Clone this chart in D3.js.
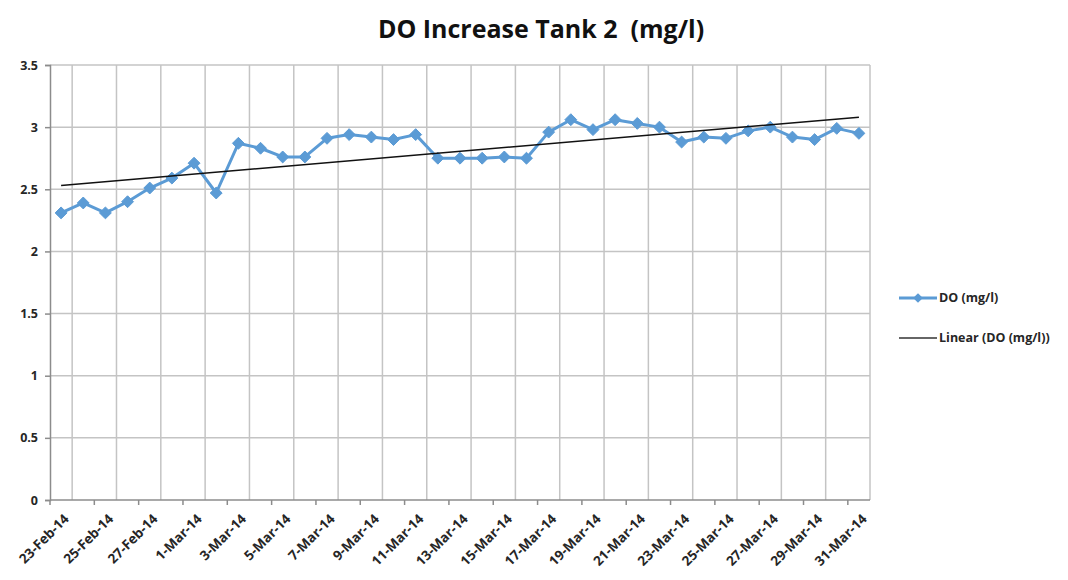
<!DOCTYPE html>
<html lang="en">
<head>
    <meta charset="UTF-8">
    <title>do-increase-tank-2</title>
    <style>
        body {
            margin: 0;
            background: #fff;
            font-family: "Open Sans", "Noto Sans", sans-serif;
        }
    </style>
    <script src="https://d3js.org/d3.v7.min.js"></script>
</head>
<body>

<script>

    // daily readings, 23-Feb-14 .. 31-Mar-14
    let dates = ["23-Feb-14", "24-Feb-14", "25-Feb-14", "26-Feb-14", "27-Feb-14", "28-Feb-14",
        "1-Mar-14", "2-Mar-14", "3-Mar-14", "4-Mar-14", "5-Mar-14", "6-Mar-14", "7-Mar-14",
        "8-Mar-14", "9-Mar-14", "10-Mar-14", "11-Mar-14", "12-Mar-14", "13-Mar-14", "14-Mar-14",
        "15-Mar-14", "16-Mar-14", "17-Mar-14", "18-Mar-14", "19-Mar-14", "20-Mar-14", "21-Mar-14",
        "22-Mar-14", "23-Mar-14", "24-Mar-14", "25-Mar-14", "26-Mar-14", "27-Mar-14", "28-Mar-14",
        "29-Mar-14", "30-Mar-14", "31-Mar-14"]
    let doValues = [2.31, 2.39, 2.31, 2.40, 2.51, 2.59, 2.71, 2.47, 2.87, 2.83, 2.76, 2.76, 2.91,
        2.94, 2.92, 2.90, 2.94, 2.75, 2.75, 2.75, 2.76, 2.75, 2.96, 3.06, 2.98, 3.06, 3.03,
        3.00, 2.88, 2.92, 2.91, 2.97, 3.00, 2.92, 2.90, 2.99, 2.95]
    let yTicks = [0, 0.5, 1, 1.5, 2, 2.5, 3, 3.5]
    let seriesName = "DO (mg/l)"
    let trendName = "Linear (DO (mg/l))"
    let chartTitle = "DO Increase Tank 2  (mg/l)"

    let width = 1068
    let height = 580
    let plotLeft = 50, plotRight = 870, plotTop = 65, plotBottom = 500
    let lineColor = "#5b9bd5"
    let gridColor = "#c4c4c4"
    let axisColor = "#8c8c8c"
    let textColor = "#262626"

    let svg = d3.select("body").append("svg").attr("width", width).attr("height", height)

    let x = d3.scaleBand().domain(d3.range(dates.length)).range([plotLeft, plotRight])
    let y = d3.scaleLinear().domain([0, 3.5]).range([plotBottom, plotTop])
    let bw = x.bandwidth()

    // title
    svg.append("text")
        .attr("x", 541).attr("y", 38)
        .attr("text-anchor", "middle")
        .attr("font-size", "25px")
        .attr("font-weight", "bold")
        .attr("fill", "#111")
        .style("white-space", "pre")
        .text(chartTitle)

    // horizontal grid
    svg.append("g")
        .selectAll("line")
        .data(yTicks.filter(d => d > 0))
        .enter()
        .append("line")
        .attr("x1", plotLeft).attr("x2", plotRight)
        .attr("y1", d => y(d)).attr("y2", d => y(d))
        .attr("stroke", gridColor).attr("stroke-width", 1.5)

    // vertical grid, between the labelled days
    let gridIdx = d3.range(1, dates.length + 1, 2)
    svg.append("g")
        .selectAll("line")
        .data(gridIdx)
        .enter()
        .append("line")
        .attr("x1", d => plotLeft + d * bw).attr("x2", d => plotLeft + d * bw)
        .attr("y1", plotTop).attr("y2", plotBottom)
        .attr("stroke", gridColor).attr("stroke-width", 1.5)

    // y axis
    let yAxis = svg.append("g")
        .attr("transform", "translate(" + plotLeft + ",0)")
        .call(d3.axisLeft(y).tickValues(yTicks).tickSize(5).tickPadding(7).tickFormat(d3.format("")))
    yAxis.select(".domain").attr("stroke", axisColor).attr("stroke-width", 1.5)
    yAxis.selectAll(".tick line").attr("stroke", axisColor).attr("stroke-width", 1.5)
    yAxis.selectAll("text")
        .attr("font-family", "Open Sans, sans-serif")
        .attr("font-size", "12.5px")
        .attr("font-weight", "bold")
        .attr("fill", textColor)

    // x axis, tick every 2 days
    let labelIdx = d3.range(0, dates.length, 2)
    let xAxis = svg.append("g").attr("transform", "translate(0," + plotBottom + ")")
    xAxis.append("line")
        .attr("x1", plotLeft).attr("x2", plotRight)
        .attr("stroke", axisColor).attr("stroke-width", 1.5)
    xAxis.selectAll(".xtick")
        .data(labelIdx)
        .enter()
        .append("line")
        .attr("class", "xtick")
        .attr("x1", d => plotLeft + d * bw).attr("x2", d => plotLeft + d * bw)
        .attr("y1", 0).attr("y2", 5)
        .attr("stroke", axisColor).attr("stroke-width", 1.5)
    xAxis.selectAll(".xlabel")
        .data(labelIdx)
        .enter()
        .append("text")
        .attr("class", "xlabel")
        .attr("transform", d => "translate(" + (x(d) + bw / 2 + 2) + ",13) rotate(-45)")
        .attr("text-anchor", "end")
        .attr("dy", "0.7em")
        .attr("font-size", "13.5px")
        .attr("font-weight", "bold")
        .attr("fill", textColor)
        .text(d => dates[d])

    // linear trend (least squares)
    let n = doValues.length
    let mx = d3.mean(d3.range(n))
    let my = d3.mean(doValues)
    let slope = d3.sum(doValues, (v, i) => (i - mx) * (v - my)) / d3.sum(d3.range(n), i => (i - mx) * (i - mx))
    let intercept = my - slope * mx

    // series
    let line = d3.line()
        .x((d, i) => x(i) + bw / 2)
        .y(d => y(d))

    svg.append("path")
        .datum(doValues)
        .attr("d", line)
        .attr("fill", "none")
        .attr("stroke", lineColor)
        .attr("stroke-width", 3)
        .attr("stroke-linejoin", "round")

    svg.append("g")
        .selectAll("path")
        .data(doValues)
        .enter()
        .append("path")
        .attr("d", d3.symbol().type(d3.symbolDiamond2).size(90))
        .attr("transform", (d, i) => "translate(" + (x(i) + bw / 2) + "," + y(d) + ")")
        .attr("fill", lineColor)
        .attr("stroke", lineColor)
        .attr("stroke-width", 1)

    svg.append("line")
        .attr("x1", x(0) + bw / 2).attr("y1", y(intercept))
        .attr("x2", x(n - 1) + bw / 2).attr("y2", y(intercept + slope * (n - 1)))
        .attr("stroke", "#111").attr("stroke-width", 1.5)

    // legend
    let legend = svg.append("g").attr("transform", "translate(899,0)")
    legend.append("line")
        .attr("x1", 0).attr("x2", 38).attr("y1", 298).attr("y2", 298)
        .attr("stroke", lineColor).attr("stroke-width", 3)
    legend.append("path")
        .attr("d", d3.symbol().type(d3.symbolDiamond2).size(60))
        .attr("transform", "translate(19,298)")
        .attr("fill", lineColor)
    legend.append("text")
        .attr("x", 40).attr("y", 298).attr("dy", "0.35em")
        .attr("font-size", "12.5px").attr("font-weight", "bold").attr("fill", textColor)
        .text(seriesName)
    legend.append("line")
        .attr("x1", 0).attr("x2", 38).attr("y1", 338).attr("y2", 338)
        .attr("stroke", "#333").attr("stroke-width", 1.5)
    legend.append("text")
        .attr("x", 40).attr("y", 338).attr("dy", "0.35em")
        .attr("font-size", "12.5px").attr("font-weight", "bold").attr("fill", textColor)
        .text(trendName)

</script>

</body>
</html>
